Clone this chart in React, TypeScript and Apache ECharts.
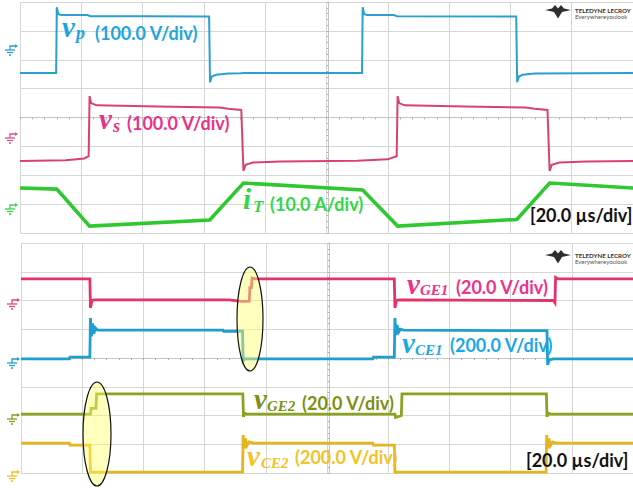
import React, { useEffect, useRef } from "react";
import * as echarts from "echarts";

// time in µs (20 µs/div), level in divisions from the bottom of each panel
const VP: number[][] = [[0,5.54],[11.8,5.54],[12.0,7.82],[12.5,7.58],[13.5,7.55],[22,7.55],[23,7.51],[40,7.51],[61.7,7.5],[62.0,5.22],[62.6,5.42],[64,5.48],[68,5.52],[72,5.53],[73,5.54],[111.6,5.54],[111.8,7.82],[112.3,7.58],[113.3,7.55],[122,7.55],[123,7.51],[161.9,7.5],[162.2,5.22],[162.8,5.42],[164,5.48],[168,5.52],[200,5.54]];
const VS: number[][] = [[0,2.49],[15,2.52],[21,2.58],[22.4,2.66],[22.7,4.74],[23.2,4.5],[25,4.42],[45,4.38],[65,4.35],[68,4.3],[72.2,4.26],[72.9,2.15],[73.6,2.36],[76,2.44],[85,2.48],[110,2.5],[120,2.55],[122.9,2.66],[123.2,4.74],[123.7,4.5],[125.5,4.42],[145,4.38],[165,4.35],[168,4.3],[172.1,4.26],[172.8,2.15],[173.5,2.36],[176,2.44],[185,2.48],[200,2.49]];
const IT: number[][] = [[0,1.56],[12,1.52],[22.7,0.24],[61.9,0.45],[72.9,1.73],[111.8,1.49],[123.2,0.24],[162.1,0.47],[172.8,1.73],[200,1.56]];
const VGE1: number[][] = [[0,6.75],[22.5,6.75],[22.7,5.74],[23.2,6.0],[24,6.02],[68,6.02],[72,5.97],[74.6,5.98],[74.8,6.45],[75.3,6.45],[75.5,6.78],[76.5,6.75],[122,6.75],[122.2,5.74],[122.7,6.0],[123.5,6.02],[174,6.0],[174.5,5.92],[174.7,6.8],[175.5,6.75],[200,6.75]];
const VCE1: number[][] = [[0,3.97],[15.8,3.97],[16,4.03],[22.5,4.03],[22.7,5.39],[23,4.75],[23.4,5.2],[23.8,4.85],[24.3,5.05],[25,4.97],[66,4.97],[66.2,4.93],[72.4,4.93],[72.6,3.9],[73.2,3.97],[115,3.97],[115.2,4.03],[122,4.03],[122.2,5.39],[122.5,4.8],[122.9,5.15],[123.4,4.9],[124,5.0],[125,4.97],[171.9,4.95],[172.1,3.76],[172.6,3.93],[174,3.97],[200,3.97]];
const VGE2: number[][] = [[0,2.05],[22.7,2.05],[22.9,2.25],[24.5,2.25],[24.7,2.75],[72.5,2.75],[72.7,1.95],[73,2.1],[73.5,2.05],[122.2,2.05],[122.4,1.93],[124.3,2.0],[124.5,2.75],[171.7,2.75],[171.9,1.95],[172.3,2.1],[173,2.05],[200,2.05]];
const VCE2: number[][] = [[0,1.04],[15.8,1.04],[16,0.97],[22.5,0.97],[22.7,0.03],[72.4,0.03],[72.6,1.32],[72.9,0.85],[73.3,1.2],[73.8,0.95],[74.5,1.08],[76,1.04],[115,1.04],[115.2,0.97],[122,0.97],[122.2,0.03],[171.6,0.03],[171.8,1.32],[172.1,0.85],[172.5,1.2],[173,0.95],[173.7,1.08],[175,1.04],[200,1.04]];

const TIME_DIV = "[20.0 µs/div]";

const SERIF = '"Liberation Serif", "DejaVu Serif", serif';
const SANS = 'Lato, "Open Sans", sans-serif';

function txt(x: number, y: number, text: string, font: string, fill: string) {
  return {
    type: "text",
    x,
    y,
    z: 120,
    style: { text, font, fill, align: "left", verticalAlign: "middle", textAlign: "left", textVerticalAlign: "middle" },
  };
}

function label(
  vx: number, vy: number, subX: number, subY: number, sub: string, subSize: number,
  px: number, py: number, scale: string, color: string, main = "v"
) {
  return {
    type: "group",
    children: [
      txt(vx, vy, main, `italic bold 29px ${SERIF}`, color),
      txt(subX, subY, sub, `italic bold ${subSize}px ${SERIF}`, color),
      txt(px, py, scale, `bold 18px ${SANS}`, color),
    ],
  };
}

function ground(x: number, y: number, color: string) {
  const ls = { stroke: color, lineWidth: 1.3 };
  return {
    type: "group",
    children: [
      { type: "polyline", shape: { points: [[x + 12, y], [x + 5, y], [x + 5, y + 4]] }, style: { ...ls, fill: null } },
      { type: "polygon", shape: { points: [[x + 13, y], [x + 10, y - 2], [x + 10, y + 2]] }, style: { fill: color } },
      { type: "line", shape: { x1: x, y1: y + 4, x2: x + 10, y2: y + 4 }, style: ls },
      { type: "line", shape: { x1: x + 2, y1: y + 6.5, x2: x + 8, y2: y + 6.5 }, style: ls },
      { type: "line", shape: { x1: x + 4, y1: y + 9, x2: x + 6, y2: y + 9 }, style: ls },
    ],
  };
}

function logo(dy: number) {
  return {
    type: "group",
    y: dy,
    children: [
      {
        type: "polygon",
        shape: { points: [[545, 10], [552, 8.5], [555, 5], [558, 8.5], [561, 5], [564, 8.5], [571, 10], [562, 12], [558, 18.5], [554, 12]] },
        style: { fill: "#2e2e2e" },
      },
      txt(575, 10, "TELEDYNE LECROY", `bold 6.2px ${SANS}`, "#333"),
      txt(575, 16.5, "Everywhereyoulook", `6px ${SANS}`, "#555"),
    ],
  };
}

function mainX(g: number) {
  return {
    type: "value", gridIndex: g, min: 0, max: 200, interval: 20,
    axisLine: { show: false }, axisTick: { show: false }, axisLabel: { show: false },
    splitLine: { show: true, lineStyle: { color: "#d6d6d6", width: 1 } },
  };
}
function mainY(g: number) {
  return {
    type: "value", gridIndex: g, min: 0, max: 8, interval: 1,
    axisLine: { show: false }, axisTick: { show: false }, axisLabel: { show: false },
    splitLine: { show: true, lineStyle: { color: "#d6d6d6", width: 1 } },
  };
}
function centerX(g: number, off: number) {
  return {
    type: "value", gridIndex: g, min: 0, max: 200, interval: 20, position: "bottom", offset: off,
    axisLine: { show: true, onZero: false, lineStyle: { color: "#c4c4c4", width: 1 } },
    axisTick: { show: true, length: 2, lineStyle: { color: "#b0b0b0" } },
    minorTick: { show: true, splitNumber: 5, length: 2, lineStyle: { color: "#b0b0b0" } },
    axisLabel: { show: false }, splitLine: { show: false },
  };
}
function centerY(g: number, off: number) {
  return {
    type: "value", gridIndex: g, min: 0, max: 8, interval: 1, position: "left", offset: off,
    axisLine: { show: true, onZero: false, lineStyle: { color: "#c4c4c4", width: 1 } },
    axisTick: { show: true, length: 2, lineStyle: { color: "#b0b0b0" } },
    minorTick: { show: true, splitNumber: 5, length: 2, lineStyle: { color: "#b0b0b0" } },
    axisLabel: { show: false }, splitLine: { show: false },
  };
}

function line(data: number[][], idx: number, color: string, width: number) {
  return {
    type: "line", data, xAxisIndex: idx, yAxisIndex: idx, symbol: "none", showSymbol: false,
    lineStyle: { color, width, join: "miter" }, z: 5, silent: true,
  };
}

export default function App() {
  const ref = useRef<HTMLDivElement>(null);
  useEffect(() => {
    document.body.style.margin = "0";
    if (!ref.current) return;
    const chart = echarts.init(ref.current, null, { renderer: "svg" });
    chart.setOption({
      animation: false,
      backgroundColor: "#ffffff",
      grid: [
        { left: 20, top: 2, width: 617, height: 231 },
        { left: 21, top: 243, width: 617, height: 230 },
      ],
      xAxis: [mainX(0), mainX(1), centerX(0, -115.5), centerX(1, -115)],
      yAxis: [mainY(0), mainY(1), centerY(0, -308.5), centerY(1, -308.5)],
      series: [
        line(VP, 0, "#2b9fce", 2),
        line(VS, 0, "#d9416f", 2),
        line(IT, 0, "#2fc92f", 3.6),
        line(VGE1, 1, "#e2336b", 2.8),
        line(VCE1, 1, "#1e9fd0", 2.8),
        line(VGE2, 1, "#8ca31f", 2.8),
        line(VCE2, 1, "#e6b41c", 2.8),
      ],
      graphic: [
        ground(5, 46, "#2b9fce"),
        ground(5, 134, "#e0508a"),
        ground(5, 205, "#3cd050"),
        ground(7, 300, "#e8408a"),
        ground(7, 359, "#1e9fd0"),
        ground(7, 415, "#8a9a20"),
        ground(7, 472, "#f0c020"),
        logo(0),
        logo(245),
        { type: "ellipse", z: 100, shape: { cx: 250, cy: 319, rx: 13, ry: 52 }, style: { fill: "rgba(255,255,110,0.45)", stroke: "#111", lineWidth: 1.2 } },
        { type: "ellipse", z: 100, shape: { cx: 97, cy: 434, rx: 14, ry: 52 }, style: { fill: "rgba(255,255,110,0.45)", stroke: "#111", lineWidth: 1.2 } },
        label(62, 26.5, 76, 33, "p", 18, 95, 33, "(100.0 V/div)", "#21a5e0"),
        label(99, 118.5, 113, 126, "s", 18, 127, 123, "(100.0 V/div)", "#e8328a"),
        label(243, 198.5, 253, 206, "T", 17, 270, 204, "(10.0 A/div)", "#2ed84a", "i"),
        txt(530, 215, TIME_DIV, `bold 18px ${SANS}`, "#111"),
        label(407, 283.5, 420, 290, "GE1", 15, 456, 287, "(20.0 V/div)", "#f0308a"),
        label(402, 342.5, 415, 350, "CE1", 15, 450, 345, "(200.0 V/div)", "#1aa8e6"),
        label(254, 398.5, 267, 406, "GE2", 15, 302, 403, "(20.0 V/div)", "#7f8f12"),
        label(247, 455.5, 261, 463, "CE2", 15, 295, 457, "(200.0 V/div)", "#f5c125"),
        txt(526, 460, TIME_DIV, `bold 18px ${SANS}`, "#111"),
      ],
    });
    return () => chart.dispose();
  }, []);
  return <div ref={ref} style={{ width: 633, height: 488 }} />;
}
